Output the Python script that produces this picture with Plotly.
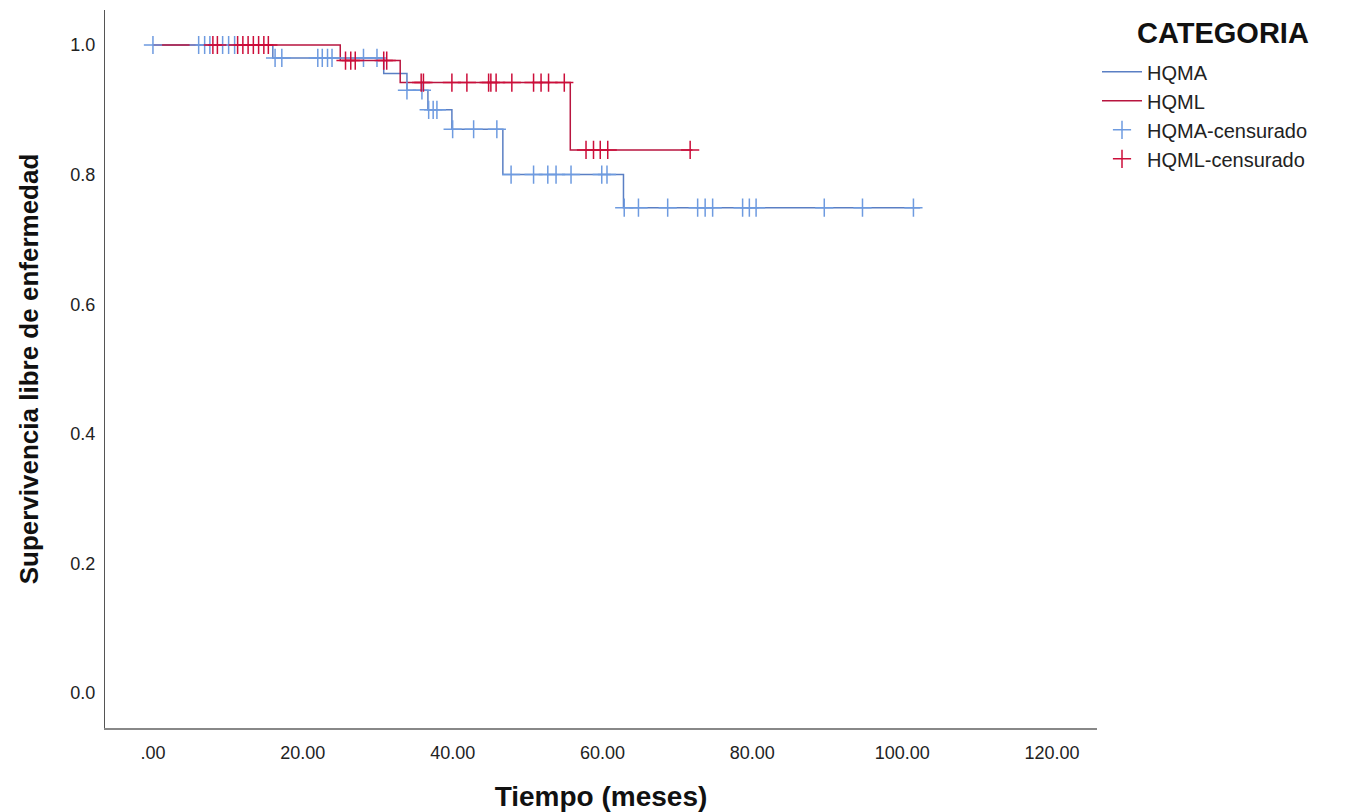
import plotly.graph_objects as go

# Step curves (time of each step start, survival level)
hqma_t = [0, 16.0, 30.8, 33.9, 36.7, 39.9, 46.7, 62.8, 102.4]
hqma_s = [1.0, 0.980, 0.956, 0.930, 0.900, 0.870, 0.800, 0.749, 0.749]

hqml_t = [0, 25.0, 33.0, 55.7, 72.0]
hqml_s = [1.0, 0.976, 0.942, 0.838, 0.838]

# Censored observations
hqma_cens_t = [0, 6.1, 6.9, 7.6, 9.3, 10.1, 10.9,
               16.3, 17.2, 22.0, 22.6, 23.3, 23.9, 28.1, 29.9,
               33.9, 35.9,
               36.8, 37.4, 37.9,
               40.0, 42.8, 45.9,
               47.8, 50.8, 52.7, 53.8, 55.8, 59.9, 60.6,
               62.9, 64.8, 68.7, 72.7, 73.7, 74.7, 78.7, 79.6, 80.5, 89.6, 94.7, 101.5]
hqma_cens_s = [1.0] * 7 + [0.980] * 8 + [0.930] * 2 + [0.900] * 3 + [0.870] * 3 + [0.800] * 7 + [0.749] * 12

hqml_cens_t = [8.0, 8.6, 11.3, 12.0, 12.7, 13.4, 14.1, 14.8, 15.4,
               25.7, 26.4, 27.0, 30.8, 31.2,
               35.8, 36.1, 39.9, 41.9, 44.8, 45.1, 45.8, 47.9, 50.8, 51.8, 52.8, 54.9,
               57.8, 58.8, 59.7, 60.7, 71.7]
hqml_cens_s = [1.0] * 9 + [0.976] * 5 + [0.942] * 12 + [0.838] * 5

x_ticks = [0, 20, 40, 60, 80, 100, 120]
x_labels = [".00", "20.00", "40.00", "60.00", "80.00", "100.00", "120.00"]
y_ticks = [0.0, 0.2, 0.4, 0.6, 0.8, 1.0]
y_labels = ["0.0", "0.2", "0.4", "0.6", "0.8", "1.0"]

BLUE_LINE = "#5A7FC4"
RED_LINE = "#B8153F"
BLUE_CENS = "#6E9BE0"
RED_CENS = "#CC0E3A"

FONT = "Liberation Sans, Arial, sans-serif"

fig = go.Figure()
fig.add_trace(go.Scatter(x=hqma_t, y=hqma_s, mode="lines", line_shape="hv",
                         line=dict(color=BLUE_LINE, width=1.5), name="HQMA"))
fig.add_trace(go.Scatter(x=hqml_t, y=hqml_s, mode="lines", line_shape="hv",
                         line=dict(color=RED_LINE, width=1.5), name="HQML"))
fig.add_trace(go.Scatter(x=hqma_cens_t, y=hqma_cens_s, mode="markers",
                         marker=dict(symbol="cross-thin-open", size=13, color=BLUE_CENS,
                                     line=dict(color=BLUE_CENS, width=1.5)),
                         name="HQMA-censurado"))
fig.add_trace(go.Scatter(x=hqml_cens_t, y=hqml_cens_s, mode="markers",
                         marker=dict(symbol="cross-thin-open", size=13, color=RED_CENS,
                                     line=dict(color=RED_CENS, width=1.5)),
                         name="HQML-censurado"))

# The page adds an 8px body margin, so the figure is sized to fit the window.
W, H = 1350, 804
ML, MT = 97, 2
PW, PH = 992, 718

fig.update_layout(
    width=W, height=H,
    margin=dict(l=ML, r=W - ML - PW, t=MT, b=H - MT - PH),
    paper_bgcolor="white", plot_bgcolor="white",
    font=dict(family=FONT, color="#222222"),
    legend=dict(
        x=1.0, y=0.941, xanchor="left", yanchor="top",
        font=dict(size=20, color="#222222"),
        bgcolor="rgba(0,0,0,0)", itemwidth=40,
    ),
    xaxis=dict(
        range=[-6.4, 126], tickvals=x_ticks, ticktext=x_labels, automargin=False,
        showgrid=False, zeroline=False, showline=True, linecolor="#888888", linewidth=2,
        ticks="", tickfont=dict(size=18, color="#222222"), ticklabelstandoff=7,
        title=dict(text="<b>Tiempo (meses)</b>", font=dict(size=28, color="#111111"), standoff=26),
    ),
    yaxis=dict(
        range=[-0.054, 1.054], tickvals=y_ticks, ticktext=y_labels, automargin=False,
        showgrid=False, zeroline=False, showline=True, linecolor="#555555", linewidth=1,
        ticks="", tickfont=dict(size=18, color="#222222"), ticklabelstandoff=5,
        title=dict(text="<b>Supervivencia libre de enfermedad</b>", font=dict(size=26, color="#111111"), standoff=24),
    ),
    annotations=[dict(
        text="<b>CATEGORIA</b>", xref="paper", yref="paper",
        x=(1215 - ML) / PW, y=1 - (25 - MT) / PH, xanchor="center", yanchor="middle",
        showarrow=False, font=dict(size=29, color="#111111"),
    )],
)

fig.write_html("out.html")
